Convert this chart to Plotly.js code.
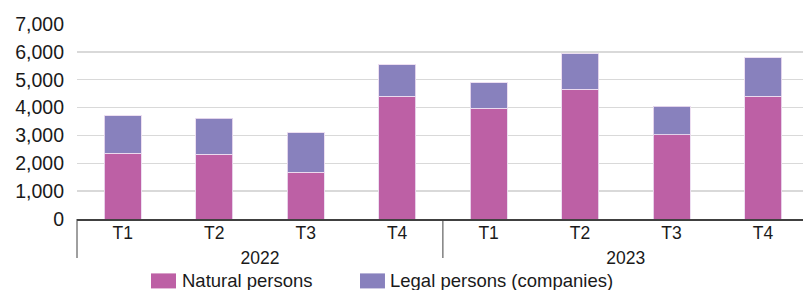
<!DOCTYPE html>
<html>
<head>
<meta charset="utf-8">
<script src="https://cdn.plot.ly/plotly-3.0.1.min.js"></script>
<style>html,body{margin:0;padding:0;background:#fff}#chart{width:803px;height:290px}</style>
</head>
<body>
<div id="chart"></div>
<script>
const years = ['2022','2022','2022','2022','2023','2023','2023','2023'];
const quarters = ['T1','T2','T3','T4','T1','T2','T3','T4'];
const naturalPersons = [2360, 2330, 1680, 4400, 3980, 4665, 3020, 4410];
const legalPersons = [1345, 1280, 1425, 1130, 910, 1270, 1035, 1370];
const seriesNames = ['Natural persons', 'Legal persons (companies)'];
const seriesColors = ['#bd60a5', '#8881bd'];

const lineStyle = {color: 'rgba(235,220,240,0.9)', width: 1};
const traces = [
  {type: 'bar', name: seriesNames[0], x: [years, quarters], y: naturalPersons,
   marker: {color: seriesColors[0], line: lineStyle}, hoverinfo: 'y'},
  {type: 'bar', name: seriesNames[1], x: [years, quarters], y: legalPersons,
   marker: {color: seriesColors[1], line: lineStyle}, hoverinfo: 'y'}
];

// legend drawn as paper-referenced swatches + labels
const legendSwatchX = [[0.1019, 0.1364], [0.3898, 0.4242]];
const legendTextX = [0.1419, 0.4284];
const shapes = seriesNames.map((n, i) => ({
  type: 'rect', xref: 'paper', yref: 'paper',
  x0: legendSwatchX[i][0], x1: legendSwatchX[i][1], y0: -0.356, y1: -0.279,
  fillcolor: seriesColors[i], line: {width: 0}
}));
// year-group dividers below the axis
[0, 0.504].forEach(x => shapes.push({
  type: 'line', xref: 'paper', yref: 'paper', x0: x, x1: x, y0: 0, y1: -0.2,
  line: {color: '#404040', width: 1}
}));
const annotations = seriesNames.map((n, i) => ({
  xref: 'paper', yref: 'paper', x: legendTextX[i], y: -0.314,
  xanchor: 'left', yanchor: 'middle', showarrow: false, text: n,
  font: {size: 18.5, color: '#1a1a1a'}
}));

const layout = {
  width: 803, height: 290,
  barmode: 'stack',
  bargap: 0.595,
  margin: {l: 77, r: 0, t: 24, b: 71, autoexpand: false},
  paper_bgcolor: '#fff', plot_bgcolor: '#fff',
  font: {family: 'Liberation Sans, Arial, sans-serif', color: '#1a1a1a', size: 17},
  separators: '.,',
  xaxis: {
    type: 'multicategory',
    range: [-0.5, 7.437],
    showline: true, linecolor: '#404040', linewidth: 1.5,
    showgrid: false, zeroline: false,
    showdividers: false,
    tickfont: {size: 17.5, color: '#1a1a1a'},
    ticks: '',
    ticklabelstandoff: -3
  },
  yaxis: {
    range: [0, 7000], dtick: 1000, tickformat: ',d',
    showgrid: true, gridcolor: '#d9d9d9', gridwidth: 1.5,
    zeroline: false, showline: false, ticks: '',
    tickfont: {size: 19.5, color: '#1a1a1a'},
    ticklabelstandoff: 12
  },
  showlegend: false,
  shapes: shapes,
  annotations: annotations
};

Plotly.newPlot('chart', traces, layout, {staticPlot: true, displayModeBar: false});
</script>
</body>
</html>
